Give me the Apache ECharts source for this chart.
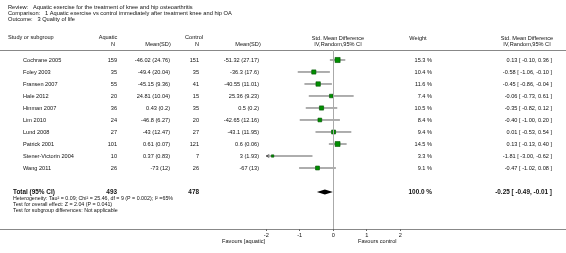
<!DOCTYPE html>
<html>
<head>
<meta charset="utf-8">
<script src="https://cdn.jsdelivr.net/npm/echarts@6/dist/echarts.min.js"></script>
<style>
  html, body { margin: 0; padding: 0; background: #fff; }
  #main { width: 566px; height: 253px; }
</style>
</head>
<body>
<div id="main"></div>
<script>
  // study rows
  var studies = ['Cochrane 2005', 'Foley 2003', 'Fransen 2007', 'Hale 2012', 'Hinman 2007',
    'Lim 2010', 'Lund 2008', 'Patrick 2001', 'Stener-Victorin 2004', 'Wang 2011'];
  var aquaticN = [159, 35, 55, 20, 36, 24, 27, 101, 10, 26];
  var aquaticMean = [-46.02, -49.4, -45.15, 24.81, 0.43, -46.8, -43, 0.61, 0.37, -73];
  var aquaticSD = [24.76, 20.04, 9.36, 10.04, 0.2, 6.27, 12.47, 0.07, 0.83, 12];
  var controlN = [151, 35, 41, 15, 35, 20, 27, 121, 7, 26];
  var controlMean = [-51.32, -36.3, -40.55, 25.36, 0.5, -42.65, -43.1, 0.6, 3, -67];
  var controlSD = [27.17, 17.6, 11.01, 9.23, 0.2, 12.16, 11.95, 0.06, 1.93, 13];
  var weights = [15.3, 10.4, 11.6, 7.4, 10.5, 8.4, 9.4, 14.5, 3.3, 9.1];
  var smd = [0.13, -0.58, -0.45, -0.06, -0.35, -0.40, 0.01, 0.13, -1.81, -0.47];
  var ciLow = [-0.10, -1.06, -0.86, -0.73, -0.82, -1.00, -0.53, -0.13, -3.00, -1.02];
  var ciHigh = [0.36, -0.10, -0.04, 0.61, 0.12, 0.20, 0.54, 0.40, -0.62, 0.08];

  // pooled result
  var totalN = [493, 478];
  var totalWeight = 100.0;
  var totalSmd = [-0.25, -0.49, -0.01];

  // x axis ticks
  var tickValues = [-2, -1, 0, 1, 2];

  var FONT = 'Liberation Sans, Arial, sans-serif';
  var FS = 5.6;
  var TXT = '#111';
  var totalRow = 11;
  var plotMin = -2;

  function fmtCI(e, l, h) {
    return e.toFixed(2) + ' [ ' + l.toFixed(2) + ', ' + h.toFixed(2) + ' ]';
  }

  // table cells: [x, row, text, align, bold]
  var cells = [];
  studies.forEach(function (s, i) {
    cells.push([23, i, s, 'left', 0]);
    cells.push([117, i, String(aquaticN[i]), 'right', 0]);
    cells.push([170, i, aquaticMean[i] + ' (' + aquaticSD[i] + ')', 'right', 0]);
    cells.push([199, i, String(controlN[i]), 'right', 0]);
    cells.push([259, i, controlMean[i] + ' (' + controlSD[i] + ')', 'right', 0]);
    cells.push([432, i, weights[i].toFixed(1) + ' %', 'right', 0]);
    cells.push([552, i, fmtCI(smd[i], ciLow[i], ciHigh[i]), 'right', 0]);
  });
  cells.push([13, totalRow, 'Total (95% CI)', 'left', 1]);
  cells.push([117, totalRow, String(totalN[0]), 'right', 1]);
  cells.push([199, totalRow, String(totalN[1]), 'right', 1]);
  cells.push([432, totalRow, totalWeight.toFixed(1) + ' %', 'right', 1]);
  cells.push([552, totalRow, fmtCI(totalSmd[0], totalSmd[1], totalSmd[2]), 'right', 1]);

  var forestData = studies.map(function (s, i) {
    return [i, smd[i], ciLow[i], ciHigh[i], weights[i]];
  });

  function txt(x, y, text, align, size, bold) {
    return {
      type: 'text', x: x, y: y, silent: true,
      style: {
        text: text, fill: TXT, font: (bold ? 'bold ' : '') + (size || FS) + 'px ' + FONT,
        textAlign: align || 'left', textVerticalAlign: 'middle'
      }
    };
  }

  var chart = echarts.init(document.getElementById('main'));

  var option = {
    animation: false,
    backgroundColor: '#fff',
    grid: { left: 0, right: 0, top: 50, bottom: 24 },
    xAxis: [{
      type: 'value', position: 'bottom', min: -9.95, max: 6.95,
      axisLine: { onZero: false, lineStyle: { color: '#888', width: 1 } },
      axisTick: { show: true, customValues: tickValues, length: 2, lineStyle: { color: '#666' } },
      axisLabel: { customValues: tickValues, fontSize: FS, fontFamily: FONT, color: TXT, margin: 3 },
      splitLine: { show: false }
    }, {
      type: 'value', position: 'top', min: 0, max: 566,
      axisLine: { onZero: false, lineStyle: { color: '#888', width: 1 } },
      axisTick: { show: false }, axisLabel: { show: false }, splitLine: { show: false }
    }],
    yAxis: {
      type: 'value', inverse: true, min: -0.8333, max: 14.0833, show: false
    },
    series: [{
      type: 'custom',
      xAxisIndex: 0,
      data: forestData,
      renderItem: function (params, api) {
        var row = api.value(0), est = api.value(1), lo = api.value(2), hi = api.value(3), w = api.value(4);
        var a = api.coord([Math.max(lo, plotMin), row]);
        var b = api.coord([hi, row]);
        var c = api.coord([est, row]);
        var s = 1.3 * Math.sqrt(w);
        var kids = [{
          type: 'line', shape: { x1: a[0], y1: a[1], x2: b[0], y2: b[1] },
          style: { stroke: '#333', lineWidth: 0.8 }
        }];
        if (lo < plotMin) {
          kids.push({
            type: 'polyline',
            shape: { points: [[a[0] + 3, a[1] - 1.5], [a[0], a[1]], [a[0] + 3, a[1] + 1.5]] },
            style: { stroke: '#333', fill: null, lineWidth: 0.8 }
          });
        }
        kids.push({
          type: 'rect', shape: { x: c[0] - s / 2, y: c[1] - s / 2, width: s, height: s },
          style: { fill: '#009000', stroke: '#005000', lineWidth: 0.6 }
        });
        return { type: 'group', children: kids };
      },
      markLine: {
        silent: true, symbol: 'none', label: { show: false },
        lineStyle: { color: '#aaa', width: 1, type: 'solid' },
        data: [{ xAxis: 0 }]
      }
    }, {
      type: 'custom',
      xAxisIndex: 0,
      data: [[totalRow, totalSmd[0], totalSmd[1], totalSmd[2]]],
      renderItem: function (params, api) {
        var row = api.value(0);
        var e = api.coord([api.value(1), row]);
        var l = api.coord([api.value(2), row]);
        var h = api.coord([api.value(3), row]);
        return {
          type: 'polygon',
          shape: { points: [[l[0], l[1]], [e[0], e[1] - 2.6], [h[0], h[1]], [e[0], e[1] + 2.6]] },
          style: { fill: '#000' }
        };
      }
    }, {
      type: 'custom',
      xAxisIndex: 1,
      data: cells,
      renderItem: function (params, api) {
        var d = cells[params.dataIndex];
        var p = api.coord([d[0], d[1]]);
        return txt(p[0], p[1], d[2], d[3], d[4] ? 6.4 : FS, d[4]);
      }
    }],
    graphic: [
      txt(8, 7, 'Review:   Aquatic exercise for the treatment of knee and hip osteoarthritis', 'left', 5.7),
      txt(8, 13, 'Comparison:   1 Aquatic exercise vs control immediately after treatment knee and hip OA', 'left', 5.7),
      txt(8, 19, 'Outcome:   3 Quality of life', 'left', 5.7),
      txt(8, 37, 'Study or subgroup', 'left'),
      txt(108, 37, 'Aquatic', 'center'),
      txt(113, 44, 'N', 'center'),
      txt(158, 44, 'Mean(SD)', 'center'),
      txt(194, 37, 'Control', 'center'),
      txt(197, 44, 'N', 'center'),
      txt(248, 44, 'Mean(SD)', 'center'),
      txt(338, 38, 'Std. Mean Difference', 'center'),
      txt(338, 44, 'IV,Random,95% CI', 'center'),
      txt(418, 38, 'Weight', 'center'),
      txt(527, 38, 'Std. Mean Difference', 'center'),
      txt(527, 44, 'IV,Random,95% CI', 'center'),
      txt(13, 199, 'Heterogeneity: Tau\u00b2 = 0.09; Chi\u00b2 = 25.46, df = 9 (P = 0.002); I\u00b2 =65%', 'left', 5.3),
      txt(13, 205, 'Test for overall effect: Z = 2.04 (P = 0.041)', 'left', 5.3),
      txt(13, 211, 'Test for subgroup differences: Not applicable', 'left', 5.3),
      txt(265, 241, 'Favours [aquatic]', 'right'),
      txt(358, 241, 'Favours control', 'left')
    ]
  };

  chart.setOption(option);
</script>
</body>
</html>
